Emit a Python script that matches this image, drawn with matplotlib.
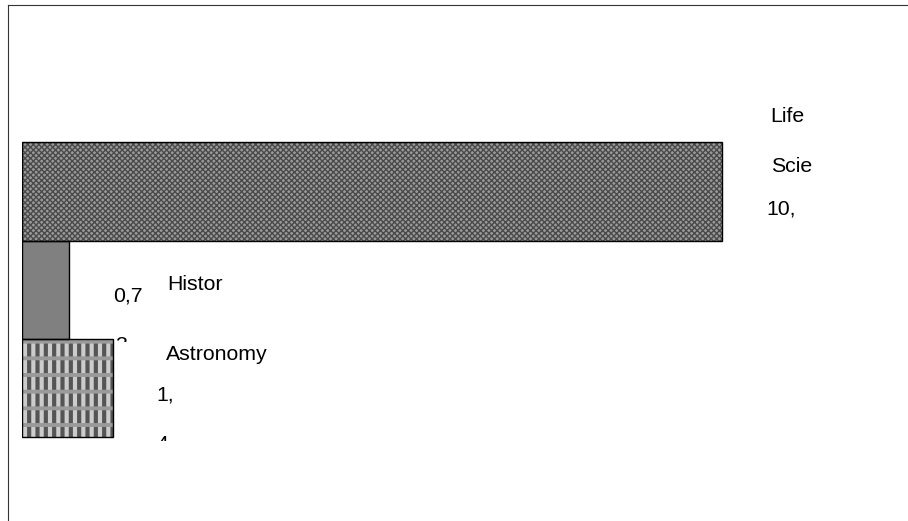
import matplotlib
matplotlib.use('Agg')
import matplotlib.pyplot as plt
from matplotlib.lines import Line2D
from matplotlib.transforms import Bbox

categories = ['Life Sciences', 'History', 'Astronomy']
values = [10.8, 0.73, 1.4]

plt.rcParams['font.family'] = ['Liberation Sans', 'DejaVu Sans']

W, H = 908, 521
fig = plt.figure(figsize=(W / 100, H / 100), dpi=100)

# axes: 0 at x=22px, 10.8 at x=722px; bars ~98px tall starting at y=142px
x0, x_end = 22, 900
px_per_unit = 700 / 10.8
ax = fig.add_axes([x0 / W, 0, (x_end - x0) / W, 1])
ax.set_xlim(0, (x_end - x0) / px_per_unit)
bar_px = 98.3
top_center = 191.5
ax.set_ylim((H - top_center) / bar_px, -top_center / bar_px)
ax.axis('off')


def hbar(i, **kw):
    lw = kw.pop('hatch_lw', 1.0)
    with plt.rc_context({'hatch.linewidth': lw}):
        bars = ax.barh(i, values[i], height=1.0, **kw)
    for b in bars:
        if hasattr(b, 'set_hatch_linewidth'):
            b.set_hatch_linewidth(lw)
    return bars


# Life Sciences: fine crosshatch
hbar(0, color='#9a9a9a', hatch='xxxxxx', edgecolor='#4a4a4a', linewidth=0,
     zorder=2, hatch_lw=1.0)
# History: plain gray
hbar(1, color='#808080', linewidth=0, zorder=2)
# Astronomy: stripes + bands (plaid look)
hbar(2, color='#cccccc', linewidth=0, zorder=2)
hbar(2, fill=False, hatch='||', edgecolor='#555555', linewidth=0,
     zorder=2.1, hatch_lw=3.0)
hbar(2, fill=False, hatch='-', edgecolor='#9a9a9a', linewidth=0,
     zorder=2.2, hatch_lw=2.8)

for i in range(len(categories)):
    ax.barh(i, values[i], height=1.0, fill=False, edgecolor='black',
            linewidth=1.0, zorder=3)

fs = 15.3
lab = dict(fontsize=fs, color='black', va='baseline', ha='left',
           textcoords='offset pixels', xycoords='data')
# Life Sciences label, wrapped and cut
ax.annotate('Life', xy=(values[0], 0), xytext=(48, 69), **lab)
ax.annotate('Scie', xy=(values[0], 0), xytext=(49, 19), **lab)
ax.annotate('10,', xy=(values[0], 0), xytext=(44, -23), **lab)
# History
ax.annotate('Histor', xy=(values[1], 1), xytext=(98, 0), **lab)
ax.annotate('0,7', xy=(values[1], 1), xytext=(44, -12), **lab)
t3 = ax.annotate('3', xy=(values[1], 1), xytext=(46, -61), **lab)
# Astronomy
ax.annotate('Astronomy', xy=(values[2], 2), xytext=(53, 28), **lab)
ax.annotate('1,', xy=(values[2], 2), xytext=(44, -12), **lab)
t4 = ax.annotate('4', xy=(values[2], 2), xytext=(44, -62), **lab)

t3.set_clip_box(Bbox.from_extents(0, H - 342, W, H - 325))
t3.set_clip_on(True)
t4.set_clip_box(Bbox.from_extents(0, H - 441, W, H - 425))
t4.set_clip_on(True)

# outer frame (top and left edges visible)
fig.add_artist(Line2D([8 / W, 8 / W], [0, 1 - 5 / H], color='#333333',
                      linewidth=0.8, transform=fig.transFigure))
fig.add_artist(Line2D([8 / W, 1], [1 - 5 / H, 1 - 5 / H], color='#333333',
                      linewidth=0.8, transform=fig.transFigure))

fig.savefig('out.png', dpi=100)
